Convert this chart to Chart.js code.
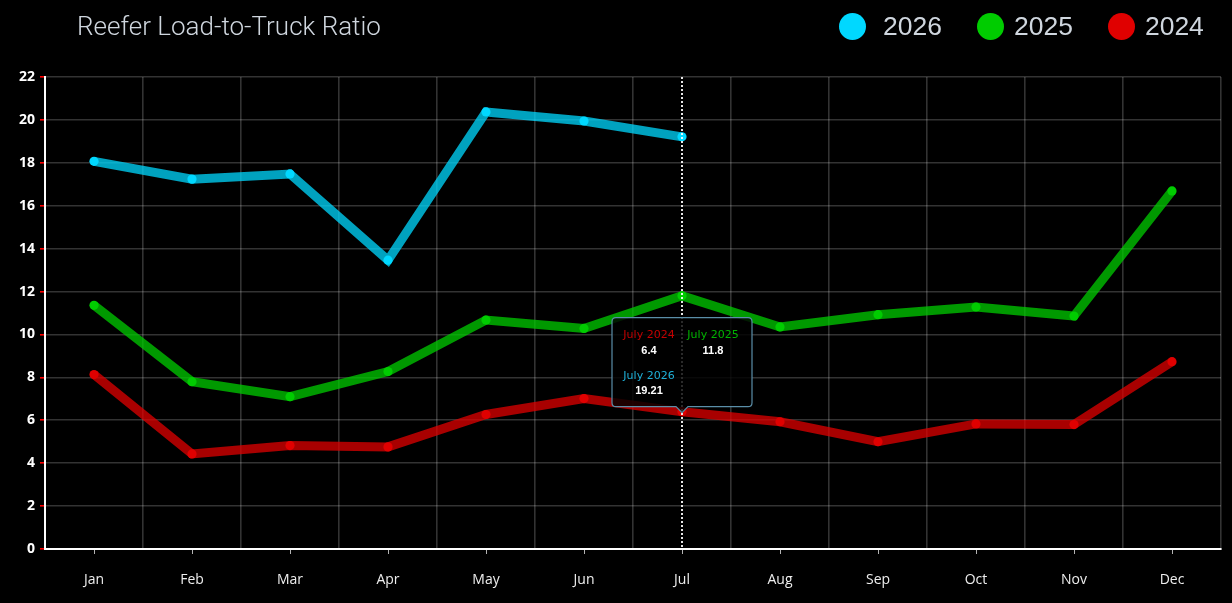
<!DOCTYPE html>
<html>
<head>
<meta charset="utf-8">
<script src="https://cdn.jsdelivr.net/npm/chart.js@4.4.1/dist/chart.umd.min.js"></script>
<style>
html,body{margin:0;padding:0;background:#000;width:1232px;height:603px;overflow:hidden}
#wrap{position:relative;width:1232px;height:603px}
#c{position:absolute;left:0;top:0}
#title{position:absolute;left:77px;top:9px;font-family:Roboto,"Liberation Sans",sans-serif;font-weight:300;font-size:26px;color:#cfd6de;white-space:nowrap;line-height:34px}
#legend{position:absolute;left:839px;top:9px;display:flex;align-items:center;height:34px}
.item{display:flex;align-items:center;margin-right:35px}
.item:last-child{margin-right:0}
.dot{width:27px;height:27px;border-radius:50%;margin-right:10px}
.lbl{font-family:"Liberation Sans",Arial,sans-serif;font-size:26.5px;color:#cfd6de;line-height:34px}
</style>
</head>
<body>
<div id="wrap">
  <canvas id="c" width="1232" height="603"></canvas>
  <div id="title">Reefer Load-to-Truck Ratio</div>
  <div id="legend"></div>
</div>
<script>
// ---- data ----
const months = ['Jan','Feb','Mar','Apr','May','Jun','Jul','Aug','Sep','Oct','Nov','Dec'];
const monthNames = ['January','February','March','April','May','June','July','August','September','October','November','December'];
const values2026 = [18.07, 17.24, 17.48, 13.46, 20.37, 19.95, 19.21];
const values2025 = [11.36, 7.80, 7.10, 8.27, 10.67, 10.28, 11.8, 10.35, 10.92, 11.28, 10.86, 16.69];
const values2024 = [8.13, 4.43, 4.82, 4.76, 6.27, 7.01, 6.4, 5.93, 5.00, 5.83, 5.80, 8.73];
const seriesNames = ['2026', '2025', '2024'];
const yMin = 0, yMax = 22, yStep = 2;
const tooltipIndex = 6;

// ---- styles ----
const pointColors = ['#00d8ff', '#00cc00', '#e00000'];
const lineColors = ['rgba(0,216,255,0.75)', 'rgba(0,204,0,0.75)', 'rgba(224,0,0,0.75)'];
const tipLabelColors = ['#1fb0d8', '#00b400', '#c40000'];
const seriesValues = [values2026, values2025, values2024];

// legend
const legend = document.getElementById('legend');
seriesNames.forEach((n, i) => {
  const it = document.createElement('div'); it.className = 'item';
  const d = document.createElement('div'); d.className = 'dot'; d.style.background = pointColors[i];
  if (i === 0) d.style.marginRight = '17px';
  const l = document.createElement('span'); l.className = 'lbl'; l.textContent = n;
  it.appendChild(d); it.appendChild(l); legend.appendChild(it);
});

const gridColor = 'rgba(255,255,255,0.2)';

const overlay = {
  id: 'overlay',
  afterDatasetsDraw(chart) {
    const ctx = chart.ctx, xs = chart.scales.x, ca = chart.chartArea;
    ctx.save();
    // x tick marks at label positions
    ctx.strokeStyle = 'rgba(255,255,255,0.7)';
    ctx.lineWidth = 1;
    months.forEach((m, i) => {
      const x = Math.round(xs.getPixelForValue(i)) + 0.5;
      ctx.beginPath(); ctx.moveTo(x, ca.bottom + 1); ctx.lineTo(x, ca.bottom + 5); ctx.stroke();
    });
    // dotted hover line
    const x = Math.round(xs.getPixelForValue(tooltipIndex));
    ctx.strokeStyle = 'rgba(255,255,255,0.9)';
    ctx.lineWidth = 2;
    ctx.setLineDash([2, 2]);
    ctx.beginPath(); ctx.moveTo(x, ca.top); ctx.lineTo(x, ca.bottom); ctx.stroke();
    ctx.restore();
  },
  afterDraw(chart) {
    const ctx = chart.ctx, xs = chart.scales.x, ys = chart.scales.y;
    const cx = xs.getPixelForValue(tooltipIndex);
    // caret points at lowest series (2024)
    const tipY = ys.getPixelForValue(values2024[tooltipIndex]) + 1;
    const caret = 6, w = 140, h = 89, r = 4;
    const bottom = tipY - caret, top = bottom - h, left = cx - w / 2, right = cx + w / 2;
    ctx.save();
    ctx.beginPath();
    ctx.moveTo(left + r, top);
    ctx.lineTo(right - r, top); ctx.quadraticCurveTo(right, top, right, top + r);
    ctx.lineTo(right, bottom - r); ctx.quadraticCurveTo(right, bottom, right - r, bottom);
    ctx.lineTo(cx + caret, bottom); ctx.lineTo(cx, tipY); ctx.lineTo(cx - caret, bottom);
    ctx.lineTo(left + r, bottom); ctx.quadraticCurveTo(left, bottom, left, bottom - r);
    ctx.lineTo(left, top + r); ctx.quadraticCurveTo(left, top, left + r, top);
    ctx.closePath();
    ctx.fillStyle = 'rgba(0,0,0,0.82)';
    ctx.fill();
    ctx.strokeStyle = '#5a8ea8';
    ctx.lineWidth = 1.2;
    ctx.stroke();
    // entries: 2024, 2025 on first row, 2026 on second
    const order = [2, 1, 0];
    const cols = [-33, 31];
    ctx.textAlign = 'center';
    ctx.textBaseline = 'middle';
    order.forEach((si, k) => {
      const col = k % 2, row = Math.floor(k / 2);
      const v = seriesValues[si][tooltipIndex];
      const tx = cx + cols[col];
      const ty = top + 17.5 + row * 40.5;
      ctx.fillStyle = tipLabelColors[si];
      ctx.font = '11px "DejaVu Sans", sans-serif';
      ctx.fillText(monthNames[tooltipIndex] + ' ' + seriesNames[si], tx, ty);
      ctx.fillStyle = '#ffffff';
      ctx.font = 'bold 11px "Liberation Sans", Arial, sans-serif';
      ctx.fillText(String(v), tx, ty + 15.5);
    });
    ctx.restore();
  }
};

new Chart(document.getElementById('c'), {
  type: 'line',
  data: {
    labels: months,
    datasets: seriesNames.map((n, i) => ({
      label: n,
      data: seriesValues[i],
      borderColor: lineColors[i],
      backgroundColor: pointColors[i],
      pointBackgroundColor: pointColors[i],
      pointBorderWidth: 0,
      pointRadius: 4.6,
      borderWidth: 9,
      tension: 0,
      fill: false,
      spanGaps: false
    }))
  },
  options: {
    responsive: false,
    animation: false,
    devicePixelRatio: 1,
    layout: { padding: { top: 77, right: 11, bottom: 0, left: 0 } },
    plugins: { legend: { display: false }, tooltip: { enabled: false }, title: { display: false } },
    scales: {
      x: {
        offset: true,
        grid: { color: gridColor, offset: true, drawTicks: false, lineWidth: 1.6 },
        border: { color: '#ffffff', width: 2 },
        ticks: { color: '#eeeeee', padding: 23, font: { family: '"Open Sans", sans-serif', size: 14 } },
        afterFit(s) { s.height = 54; }
      },
      y: {
        min: yMin, max: yMax,
        grid: { color: gridColor, tickColor: '#ff0000', tickLength: 5, lineWidth: 1.6 },
        border: { color: '#ffffff', width: 2 },
        ticks: { stepSize: yStep, color: '#ffffff', padding: 5, font: { family: '"Open Sans", sans-serif', size: 14, weight: 'bold' } },
        afterFit(s) { s.width = 45; }
      }
    }
  },
  plugins: [overlay]
});
</script>
</body>
</html>
